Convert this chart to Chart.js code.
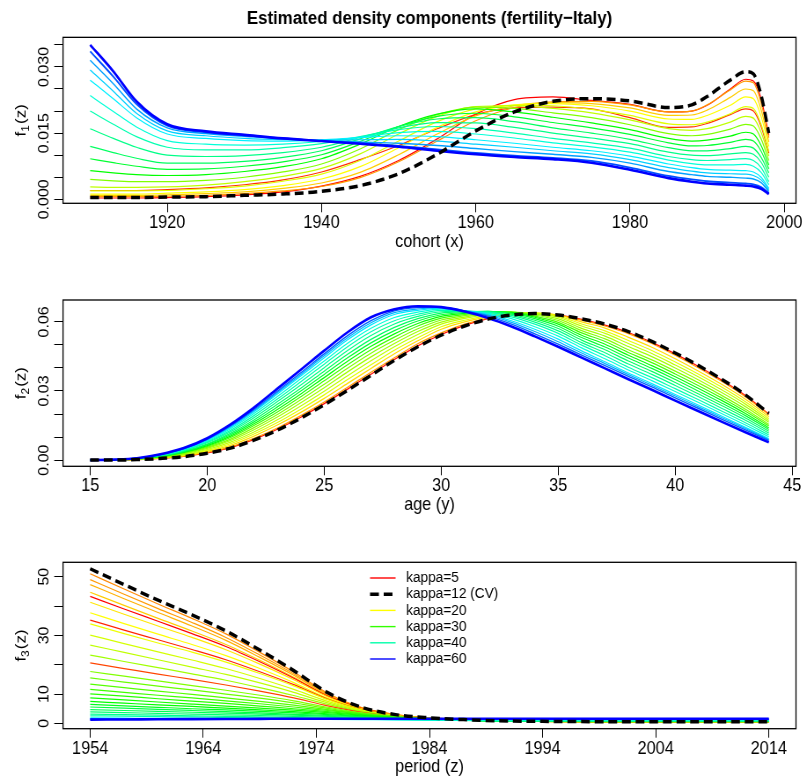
<!DOCTYPE html>
<html lang="en">
<head>
<meta charset="UTF-8">
<title>Estimated density components (fertility-Italy)</title>
<script src="https://cdn.jsdelivr.net/npm/chart.js"></script>
<style>
  body { margin: 0; background: #fff; }
  #page { position: relative; width: 804px; height: 781px; overflow: hidden; background: #fff; }
  .panel { position: absolute; left: 0; transform: scaleX(0.88); transform-origin: 0 0; }
  canvas { display: block; }
</style>
</head>
<body>
<div id="page">
  <div class="panel" style="top:0"><canvas id="c1" width="914" height="260"></canvas></div>
  <div class="panel" style="top:260px"><canvas id="c2" width="914" height="260"></canvas></div>
  <div class="panel" style="top:520px"><canvas id="c3" width="914" height="261"></canvas></div>
</div>
<script>
// ---- panel 1: cohort component f1(z) ----
const cohortYears = [1910,1913,1916,1920,1925,1930,1935,1940,1945,1950,1955,1960,1965,1970,1975,1980,1985,1988,1990,1993,1995,1996,1997,1998];
const f1_k5   = [.0003,.0003,.0003,.0004,.0006,.0010,.0017,.0030,.0052,.0088,.0137,.0193,.0226,.0232,.0224,.0215,.0198,.0200,.0213,.0250,.0272,.0268,.0228,.0145];
const f1_red2 = [.0020,.0020,.0020,.0022,.0026,.0033,.0044,.0062,.0090,.0122,.0160,.0192,.0207,.0209,.0205,.0185,.0163,.0164,.0172,.0192,.0205,.0200,.0165,.0105];
const f1_k12  = [.0004,.0004,.0004,.0005,.0006,.0009,.0012,.0018,.0031,.0058,.0102,.0155,.0198,.0222,.0228,.0223,.0208,.0214,.0233,.0270,.0289,.0284,.0236,.0150];
const f1_k16  = [.0006,.0006,.0006,.0007,.0009,.0013,.0019,.0029,.0049,.0085,.0132,.0178,.0208,.0221,.0222,.0214,.0198,.0200,.0214,.0248,.0268,.0264,.0218,.0140];
const f1_k18  = [.0009,.0009,.0009,.0010,.0013,.0017,.0025,.0037,.0061,.0101,.0148,.0189,.0212,.0219,.0217,.0207,.0190,.0191,.0202,.0231,.0250,.0246,.0203,.0130];
const f1_k20  = [.0012,.0012,.0012,.0014,.0017,.0022,.0031,.0046,.0074,.0117,.0163,.0198,.0214,.0217,.0212,.0200,.0182,.0181,.0190,.0213,.0232,.0228,.0188,.0120];
const f1_k22  = [.0019,.0019,.0019,.0020,.0024,.0030,.0041,.0057,.0088,.0132,.0176,.0205,.0213,.0212,.0204,.0190,.0171,.0169,.0175,.0194,.0210,.0206,.0170,.0109];
const f1_k25  = [.0028,.0027,.0027,.0028,.0032,.0040,.0052,.0070,.0103,.0148,.0188,.0210,.0212,.0206,.0196,.0180,.0160,.0156,.0160,.0175,.0188,.0184,.0152,.0098];
const f1_k28  = [.0045,.0042,.0040,.0040,.0043,.0050,.0062,.0080,.0114,.0158,.0192,.0209,.0206,.0196,.0185,.0169,.0149,.0144,.0147,.0159,.0170,.0166,.0137,.0088];
const f1_k30  = [.0065,.0060,.0056,.0054,.0056,.0063,.0074,.0092,.0125,.0165,.0193,.0205,.0198,.0186,.0173,.0158,.0138,.0132,.0134,.0143,.0152,.0148,.0122,.0078];
const f1_k33  = [.0092,.0083,.0075,.0068,.0069,.0075,.0085,.0101,.0131,.0165,.0188,.0195,.0187,.0174,.0162,.0147,.0128,.0121,.0122,.0129,.0136,.0132,.0109,.0069];
const f1_k35  = [.0120,.0106,.0093,.0082,.0082,.0086,.0095,.0110,.0137,.0165,.0182,.0185,.0176,.0162,.0150,.0136,.0117,.0110,.0110,.0115,.0120,.0116,.0095,.0060];
const f1_k38  = [.0160,.0138,.0118,.0100,.0097,.0099,.0106,.0118,.0140,.0162,.0174,.0173,.0163,.0150,.0139,.0126,.0107,.0100,.0099,.0103,.0106,.0102,.0084,.0050];
const f1_k40  = [.0200,.0170,.0142,.0118,.0112,.0112,.0117,.0126,.0142,.0158,.0165,.0160,.0150,.0138,.0128,.0116,.0097,.0090,.0088,.0090,.0092,.0088,.0072,.0040];
const f1_k42  = [.0235,.0199,.0164,.0133,.0125,.0123,.0125,.0131,.0141,.0151,.0154,.0148,.0139,.0128,.0119,.0107,.0089,.0081,.0078,.0078,.0079,.0075,.0061,.0033];
const f1_k45  = [.0270,.0228,.0185,.0148,.0138,.0133,.0132,.0135,.0140,.0144,.0142,.0135,.0127,.0118,.0110,.0098,.0080,.0072,.0068,.0066,.0065,.0062,.0050,.0025];
const f1_k47  = [.0293,.0245,.0195,.0155,.0144,.0138,.0135,.0134,.0135,.0136,.0132,.0125,.0118,.0110,.0103,.0090,.0072,.0064,.0060,.0058,.0057,.0054,.0044,.0022];
const f1_k50  = [.0315,.0262,.0205,.0162,.0149,.0143,.0137,.0133,.0130,.0127,.0122,.0115,.0108,.0102,.0095,.0082,.0063,.0056,.0052,.0050,.0048,.0046,.0038,.0018];
const f1_k55  = [.0335,.0278,.0216,.0167,.0152,.0145,.0138,.0132,.0127,.0121,.0113,.0105,.0099,.0094,.0087,.0072,.0053,.0045,.0041,.0038,.0036,.0034,.0028,.0014];
const f1_k60  = [.0350,.0290,.0222,.0170,.0154,.0146,.0138,.0132,.0126,.0119,.0110,.0102,.0096,.0091,.0083,.0067,.0048,.0040,.0036,.0033,.0031,.0029,.0024,.0012];
const cohortTicks = [1920,1940,1960,1980,2000];
const f1Ticks  = [0,0.005,0.010,0.015,0.020,0.025,0.030,0.035];
const f1Labels = ['0.000','','','0.015','','','0.030',''];

// ---- panel 2: age component f2(z) ----
const ages = [15,16,17,18,19,20,21,22,23,24,25,26,27,28,29,30,31,32,33,34,35,36,37,38,39,40,41,42,43,44];
const f2_k5  = [0,0,.0002,.0007,.0016,.0031,.0054,.0090,.0134,.0186,.0245,.0308,.0373,.0437,.0496,.0545,.0585,.0614,.0631,.0636,.0629,.0611,.0586,.0554,.0511,.0461,.0406,.0346,.0280,.0200];
const f2_k12 = [0,0,.0002,.0007,.0015,.0030,.0052,.0087,.0130,.0182,.0240,.0303,.0368,.0433,.0492,.0542,.0582,.0612,.0630,.0636,.0630,.0613,.0590,.0558,.0515,.0465,.0410,.0350,.0283,.0203];
const f2_k16 = [0,0,.0002,.0008,.0017,.0033,.0057,.0094,.0139,.0193,.0252,.0316,.0381,.0444,.0505,.0552,.0590,.0617,.0633,.0637,.0629,.0608,.0582,.0549,.0506,.0455,.0400,.0341,.0275,.0197];
const f2_k20 = [0,0,.0003,.0009,.0019,.0038,.0064,.0104,.0152,.0207,.0268,.0333,.0398,.0462,.0518,.0568,.0600,.0622,.0635,.0639,.0630,.0600,.0573,.0533,.0490,.0440,.0386,.0328,.0264,.0188];
const f2_k22 = [0,0,.0003,.0010,.0021,.0042,.0071,.0113,.0163,.0221,.0283,.0350,.0414,.0477,.0531,.0579,.0607,.0627,.0637,.0638,.0625,.0591,.0561,.0519,.0476,.0426,.0373,.0316,.0253,.0180];
const f2_k25 = [0,.0001,.0004,.0012,.0024,.0046,.0078,.0122,.0175,.0235,.0299,.0366,.0431,.0492,.0545,.0590,.0615,.0632,.0640,.0637,.0620,.0582,.0550,.0506,.0463,.0413,.0361,.0304,.0243,.0172];
const f2_k27 = [0,.0001,.0004,.0013,.0027,.0051,.0085,.0132,.0187,.0249,.0314,.0383,.0448,.0506,.0558,.0599,.0621,.0636,.0642,.0634,.0613,.0572,.0538,.0493,.0449,.0400,.0348,.0292,.0232,.0164];
const f2_k28 = [0,.0001,.0004,.0014,.0029,.0055,.0091,.0141,.0198,.0262,.0329,.0399,.0464,.0520,.0570,.0608,.0627,.0640,.0643,.0630,.0606,.0562,.0526,.0479,.0435,.0386,.0335,.0280,.0221,.0155];
const f2_k29 = [0,.0001,.0005,.0015,.0032,.0059,.0098,.0150,.0209,.0275,.0344,.0414,.0479,.0534,.0582,.0616,.0632,.0643,.0642,.0625,.0598,.0552,.0515,.0467,.0423,.0374,.0323,.0269,.0212,.0148];
const f2_k30 = [0,.0001,.0005,.0016,.0034,.0063,.0104,.0158,.0220,.0287,.0358,.0429,.0494,.0548,.0593,.0624,.0637,.0645,.0641,.0620,.0590,.0542,.0503,.0455,.0410,.0362,.0311,.0258,.0202,.0140];
const f2_k33 = [0,.0001,.0006,.0017,.0036,.0067,.0110,.0166,.0231,.0300,.0372,.0444,.0509,.0562,.0604,.0631,.0641,.0646,.0638,.0614,.0581,.0532,.0491,.0443,.0398,.0350,.0299,.0247,.0193,.0133];
const f2_k35 = [0,.0001,.0006,.0018,.0038,.0070,.0116,.0174,.0242,.0312,.0386,.0459,.0524,.0576,.0614,.0638,.0644,.0646,.0634,.0607,.0571,.0521,.0479,.0430,.0385,.0337,.0287,.0236,.0183,.0125];
const f2_k38 = [0,.0002,.0007,.0020,.0041,.0075,.0123,.0184,.0254,.0326,.0401,.0476,.0541,.0591,.0624,.0644,.0646,.0644,.0628,.0599,.0561,.0510,.0466,.0417,.0372,.0324,.0275,.0224,.0173,.0117];
const f2_k40 = [0,.0002,.0007,.0021,.0043,.0079,.0129,.0193,.0265,.0340,.0416,.0492,.0557,.0605,.0633,.0650,.0647,.0642,.0622,.0590,.0550,.0499,.0453,.0403,.0358,.0310,.0262,.0212,.0162,.0109];
const f2_k42 = [0,.0002,.0007,.0022,.0045,.0083,.0136,.0202,.0276,.0353,.0430,.0507,.0572,.0619,.0642,.0655,.0648,.0638,.0614,.0579,.0538,.0487,.0440,.0391,.0345,.0298,.0250,.0201,.0152,.0101];
const f2_k45 = [0,.0002,.0007,.0023,.0047,.0087,.0142,.0210,.0287,.0365,.0444,.0522,.0587,.0632,.0650,.0660,.0648,.0634,.0605,.0568,.0525,.0474,.0427,.0378,.0332,.0285,.0238,.0190,.0142,.0093];
const f2_k50 = [0,.0002,.0008,.0024,.0049,.0089,.0146,.0215,.0293,.0372,.0453,.0531,.0596,.0640,.0656,.0662,.0648,.0630,.0598,.0558,.0514,.0465,.0419,.0371,.0325,.0278,.0231,.0184,.0137,.0089];
const f2_k55 = [0,.0002,.0008,.0024,.0050,.0091,.0149,.0220,.0299,.0379,.0461,.0540,.0605,.0648,.0662,.0664,.0647,.0625,.0590,.0548,.0503,.0456,.0410,.0363,.0318,.0270,.0224,.0177,.0131,.0085];
const f2_k60 = [0,.0002,.0008,.0025,.0052,.0095,.0155,.0228,.0310,.0392,.0475,.0555,.0620,.0655,.0668,.0664,.0645,.0617,.0580,.0537,.0492,.0445,.0398,.0351,.0305,.0258,.0212,.0166,.0121,.0077];
const ageTicks = [15,20,25,30,35,40,45];
const f2Ticks  = [0,0.01,0.02,0.03,0.04,0.05,0.06];
const f2Labels = ['0.00','','','0.03','','','0.06'];

// ---- panel 3: period component f3(z) ----
const periods = [1954,1957,1960,1963,1966,1969,1972,1975,1978,1981,1984,1987,1990,1994,1999,2004,2009,2014];
const f3_k12  = [52.7,47.3,42.0,37.0,31.5,25.0,18.0,10.5,5.5,3.0,1.9,1.3,0.9,0.7,0.6,0.6,0.6,0.6];
const f3_k14  = [51.0,45.8,40.7,35.8,30.5,24.2,17.5,10.3,5.4,3.0,1.9,1.3,0.9,0.7,0.6,0.6,0.6,0.6];
const f3_k16  = [49.0,44.0,39.1,34.4,29.3,23.3,16.9,10.0,5.3,3.0,1.9,1.3,0.9,0.7,0.6,0.6,0.6,0.6];
const f3_k17  = [47.3,42.5,37.8,33.2,28.3,22.5,16.4,9.7,5.2,2.9,1.9,1.3,0.9,0.7,0.6,0.6,0.6,0.6];
const f3_k18  = [44.7,40.2,35.8,31.5,26.9,21.5,15.7,9.4,5.1,2.9,1.9,1.3,0.9,0.7,0.6,0.6,0.6,0.6];
const f3_k5   = [43.3,39.0,34.8,30.6,26.2,21.0,15.4,9.3,5.1,2.9,1.9,1.3,0.9,0.7,0.6,0.6,0.6,0.6];
const f3_k19  = [41.3,37.2,33.2,29.3,25.1,20.2,14.9,9.1,5.0,2.9,1.9,1.3,0.9,0.7,0.6,0.6,0.6,0.6];
const f3_k20  = [37.7,34.0,30.4,26.9,23.1,18.7,13.9,8.6,4.8,2.8,1.8,1.2,0.9,0.7,0.6,0.6,0.6,0.6];
const f3_red2 = [35.2,31.8,28.5,25.2,21.7,17.6,13.2,8.3,4.7,2.8,1.8,1.2,0.9,0.7,0.6,0.6,0.6,0.6];
const f3_k21  = [33.9,30.6,27.4,24.3,20.9,17.0,12.8,8.1,4.6,2.7,1.8,1.2,0.9,0.7,0.6,0.6,0.6,0.6];
const f3_k23  = [30.1,27.2,24.4,21.6,18.7,15.3,11.6,7.5,4.4,2.6,1.8,1.2,0.9,0.7,0.6,0.6,0.6,0.6];
const f3_k25  = [26.7,24.2,21.7,19.2,16.7,13.8,10.6,7.0,4.2,2.6,1.7,1.2,0.9,0.7,0.6,0.6,0.6,0.6];
const f3_k26  = [23.3,21.1,19.0,16.9,14.7,12.2,9.5,6.5,4.0,2.5,1.7,1.2,0.9,0.7,0.6,0.6,0.6,0.6];
const f3_red3 = [20.6,18.7,16.8,15.0,13.1,11.0,8.7,6.0,3.8,2.4,1.7,1.2,0.9,0.7,0.6,0.6,0.6,0.6];
const f3_k27  = [17.7,16.1,14.5,12.9,11.3,9.6,7.7,5.5,3.6,2.3,1.6,1.2,0.9,0.7,0.6,0.6,0.6,0.6];
const f3_k27b = [15.5,14.1,12.7,11.4,10.0,8.6,7.0,5.1,3.5,2.3,1.6,1.2,0.9,0.7,0.6,0.6,0.6,0.6];
const f3_k28  = [13.4,12.2,11.0,9.9,8.7,7.5,6.2,4.7,3.3,2.2,1.6,1.2,0.9,0.8,0.7,0.7,0.7,0.7];
const f3_k28b = [11.6,10.6,9.6,8.7,7.7,6.7,5.6,4.4,3.2,2.2,1.6,1.2,0.9,0.8,0.7,0.7,0.7,0.7];
const f3_k29  = [10.1,9.3,8.4,7.6,6.8,5.9,5.0,4.0,3.0,2.1,1.5,1.2,0.9,0.8,0.7,0.7,0.7,0.7];
const f3_k29b = [8.7,8.0,7.3,6.6,5.9,5.2,4.5,3.7,2.8,2.0,1.5,1.1,0.9,0.8,0.7,0.7,0.7,0.7];
const f3_k30  = [7.5,6.9,6.3,5.8,5.2,4.6,4.0,3.3,2.6,1.9,1.4,1.1,0.9,0.8,0.7,0.7,0.7,0.7];
const f3_k31  = [6.5,6.0,5.5,5.0,4.6,4.1,3.6,3.0,2.4,1.8,1.4,1.1,0.9,0.8,0.8,0.8,0.8,0.8];
const f3_k33  = [5.6,5.2,4.8,4.4,4.0,3.6,3.1,2.7,2.2,1.7,1.3,1.1,0.9,0.8,0.8,0.8,0.8,0.8];
const f3_k34  = [4.7,4.4,4.1,3.8,3.5,3.2,2.8,2.4,2.0,1.6,1.3,1.1,0.9,0.9,0.9,0.9,0.9,0.9];
const f3_k35  = [3.9,3.7,3.4,3.2,2.9,2.7,2.4,2.1,1.8,1.5,1.2,1.0,0.9,0.9,0.9,0.9,0.9,0.9];
const f3_k37  = [3.2,3.0,2.8,2.6,2.4,2.2,2.0,1.8,1.6,1.4,1.2,1.0,0.9,0.9,0.9,0.9,0.9,0.9];
const f3_k40  = [2.6,2.5,2.3,2.2,2.0,1.9,1.7,1.6,1.4,1.3,1.1,1.0,1.0,1.0,1.0,1.0,1.0,1.0];
const f3_k45  = [1.9,1.8,1.7,1.7,1.6,1.5,1.5,1.4,1.3,1.2,1.2,1.2,1.2,1.2,1.2,1.2,1.2,1.2];
const f3_k50  = [1.6,1.6,1.5,1.5,1.5,1.5,1.5,1.4,1.4,1.4,1.4,1.4,1.4,1.4,1.4,1.4,1.4,1.4];
const f3_k55  = [1.4,1.4,1.4,1.5,1.5,1.5,1.5,1.5,1.5,1.5,1.5,1.5,1.5,1.5,1.5,1.5,1.5,1.5];
const f3_k60  = [1.3,1.35,1.4,1.45,1.5,1.55,1.6,1.6,1.6,1.6,1.6,1.6,1.6,1.6,1.6,1.6,1.6,1.6];
const periodTicks = [1954,1964,1974,1984,1994,2004,2014];
const f3Ticks  = [0,10,20,30,40,50];
const f3Labels = ['0','10','','30','','50'];

// legend (drawn in the third panel)
const legendLabels = ['kappa=5','kappa=12 (CV)','kappa=20','kappa=30','kappa=40','kappa=60'];
const legendColors = ['#FF0000','#000000','#FFFF00','#33FF00','#00FFAA','#0000FF'];

// [values, colour, width] - first entry is drawn on top
const f1Series = [
  [f1_k60,'#0000FF',2.6],[f1_k55,'#0050FF',1.8],[f1_k50,'#00A0FF',1.4],[f1_k47,'#00D0FF',1.2],
  [f1_k45,'#00F0FF',1.2],[f1_k42,'#00FFD8',1.2],[f1_k40,'#00FFB0',1.2],[f1_k38,'#00FF88',1.2],
  [f1_k35,'#00FF60',1.2],[f1_k33,'#00FF30',1.2],[f1_k30,'#00FF00',1.2],[f1_k28,'#80FF00',1.2],
  [f1_k25,'#BFFF00',1.2],[f1_k22,'#E0FF00',1.2],[f1_k20,'#FFFF00',1.2],[f1_k18,'#FFCC00',1.2],
  [f1_k16,'#FF9900',1.2],[f1_red2,'#FF3300',1.2],[f1_k5,'#FF0000',1.2]
];
const f2Series = [
  [f2_k60,'#0000FF',2.6],[f2_k55,'#0060FF',1.4],[f2_k50,'#00B0FF',1.2],[f2_k45,'#00E8FF',1.2],
  [f2_k42,'#00FFD8',1.2],[f2_k40,'#00FFB0',1.2],[f2_k38,'#00FF88',1.2],[f2_k35,'#00FF60',1.2],
  [f2_k33,'#00FF30',1.2],[f2_k30,'#00FF00',1.2],[f2_k29,'#40FF00',1.2],[f2_k28,'#80FF00',1.2],
  [f2_k27,'#A0FF00',1.2],[f2_k25,'#BFFF00',1.2],[f2_k22,'#E0FF00',1.2],[f2_k20,'#FFDD00',1.2],
  [f2_k16,'#FF9900',1.2],[f2_k5,'#FF0000',1.2]
];
const f3Series = [
  [f3_k60,'#0000FF',2.6],[f3_k55,'#0050FF',1.4],[f3_k50,'#00A0FF',1.2],[f3_k45,'#00F0FF',1.2],
  [f3_k40,'#00FFB0',1.2],[f3_k37,'#00FF90',1.2],[f3_k35,'#00FF70',1.2],[f3_k34,'#00FF55',1.2],
  [f3_k33,'#00FF40',1.2],[f3_k31,'#00FF20',1.2],[f3_k30,'#00FF00',1.2],[f3_k29b,'#15FF00',1.2],
  [f3_k29,'#2AFF00',1.2],[f3_k28b,'#40FF00',1.2],[f3_k28,'#55FF00',1.2],[f3_k27b,'#6AFF00',1.2],
  [f3_k27,'#80FF00',1.2],[f3_red3,'#FF4400',1.2],[f3_k26,'#A0FF00',1.2],[f3_k25,'#BFFF00',1.2],
  [f3_k23,'#D4FF00',1.2],[f3_k21,'#EEFF00',1.2],[f3_red2,'#FF2200',1.2],[f3_k20,'#FFFF00',1.2],
  [f3_k19,'#FFE600',1.2],[f3_k5,'#FF0000',1.2],[f3_k18,'#FFCC00',1.2],[f3_k17,'#FFB000',1.2],
  [f3_k16,'#FF9900',1.2],[f3_k14,'#FF8800',1.2]
];

const FONT = '"Liberation Sans", Arial, Helvetica, sans-serif';
const DASH = [10, 5.5];

function lineSet(xs, ys, color, width, order, dash) {
  return {
    data: xs.map((x, i) => ({x: x, y: ys[i]})),
    borderColor: color, borderWidth: width, borderDash: dash || [],
    borderJoinStyle: 'round', pointRadius: 0, fill: false,
    cubicInterpolationMode: 'monotone', order: order
  };
}

// frame, rotated y labels, y title and (optionally) legend
const framePlugin = {
  id: 'frame',
  afterDraw(chart, args, o) {
    const ctx = chart.ctx, a = chart.chartArea, ys = chart.scales.y;
    ctx.save();
    ctx.strokeStyle = '#000'; ctx.lineWidth = 1.3; ctx.setLineDash([]);
    ctx.strokeRect(a.left, a.top, a.right - a.left, a.bottom - a.top);
    ctx.fillStyle = '#000';
    ctx.font = '16px ' + FONT;
    ctx.textAlign = 'center'; ctx.textBaseline = 'middle';
    o.ticks.forEach((v, i) => {
      if (!o.labels[i]) return;
      ctx.save();
      ctx.translate(a.left - 21, ys.getPixelForValue(v));
      ctx.rotate(-Math.PI / 2);
      ctx.fillText(o.labels[i], 0, 0);
      ctx.restore();
    });
    // y axis title f_n(z)
    ctx.save();
    ctx.translate(24, (a.top + a.bottom) / 2);
    ctx.rotate(-Math.PI / 2);
    ctx.textAlign = 'left'; ctx.textBaseline = 'alphabetic';
    ctx.font = '17px ' + FONT;
    const wf = ctx.measureText('f').width, wz = ctx.measureText('(z)').width;
    ctx.font = '12px ' + FONT;
    const ws = ctx.measureText(o.sub).width;
    let x = -(wf + ws + wz + 1) / 2;
    ctx.font = '17px ' + FONT; ctx.fillText('f', x, 5); x += wf;
    ctx.font = '12px ' + FONT; ctx.fillText(o.sub, x, 9); x += ws + 1;
    ctx.font = '17px ' + FONT; ctx.fillText('(z)', x, 5);
    ctx.restore();
    if (o.legend) {
      ctx.font = '15.5px ' + FONT;
      ctx.textAlign = 'left'; ctx.textBaseline = 'middle';
      legendLabels.forEach((lab, i) => {
        const y = o.legend.y + i * o.legend.step;
        ctx.beginPath();
        ctx.strokeStyle = legendColors[i];
        ctx.lineWidth = i === 1 ? 3.5 : 1.4;
        ctx.setLineDash(i === 1 ? DASH : []);
        ctx.moveTo(o.legend.x, y); ctx.lineTo(o.legend.x + 29, y);
        ctx.stroke();
        ctx.setLineDash([]);
        ctx.fillStyle = '#000';
        ctx.fillText(lab, o.legend.x + 41, y);
      });
    }
    ctx.restore();
  }
};

function makePanel(p) {
  const datasets = p.series.map((s, i) => lineSet(p.xs, s[0], s[1], s[2], i + 1));
  datasets.unshift(lineSet(p.xs, p.dashed, '#000000', 3.5, 0, DASH));
  new Chart(document.getElementById(p.id), {
    type: 'line',
    data: { datasets: datasets },
    options: {
      responsive: false, animation: false, events: [],
      layout: { padding: { left: 0, right: 9.5, top: p.padTop, bottom: 0 } },
      plugins: {
        legend: { display: false }, tooltip: { enabled: false },
        title: p.title ? {
          display: true, text: p.title, color: '#000', fullSize: false,
          font: { family: FONT, size: 19.2, weight: 'bold' }, padding: { top: 7, bottom: 7.3 }
        } : { display: false },
        frame: { ticks: p.yTicks, labels: p.yLabels, sub: p.sub, legend: p.legend || null }
      },
      scales: {
        x: {
          type: 'linear', min: p.xMin, max: p.xMax,
          afterBuildTicks: s => { s.ticks = p.xTicks.map(v => ({value: v})); },
          afterFit: s => { s.height = p.xAxisH; },
          ticks: { callback: v => String(v), color: '#000', font: { family: FONT, size: 18.5 }, padding: 0, maxRotation: 0, autoSkip: false },
          grid: { drawOnChartArea: false, drawTicks: true, tickLength: 9, color: '#000' },
          border: { display: false },
          title: { display: true, text: p.xTitle, color: '#000', font: { family: FONT, size: 18.5 }, padding: { top: 0, bottom: p.titlePad } }
        },
        y: {
          type: 'linear', min: p.yMin, max: p.yMax,
          afterBuildTicks: s => { s.ticks = p.yTicks.map(v => ({value: v})); },
          afterFit: s => { s.width = 71.6; },
          ticks: { display: false },
          grid: { drawOnChartArea: false, drawTicks: true, tickLength: 10, color: '#000' },
          border: { display: false }
        }
      }
    },
    plugins: [framePlugin]
  });
}

makePanel({ id: 'c1', xs: cohortYears, series: f1Series, dashed: f1_k12,
  xMin: 1906.48, xMax: 2001.52, yMin: -0.0009, yMax: 0.0367,
  xTicks: cohortTicks, yTicks: f1Ticks, yLabels: f1Labels, sub: '1',
  xTitle: 'cohort (x)', title: 'Estimated density components (fertility\u2212Italy)',
  padTop: 0, xAxisH: 56.7, titlePad: 7.1 });

makePanel({ id: 'c2', xs: ages, series: f2Series, dashed: f2_k12,
  xMin: 13.84, xMax: 45.16, yMin: -0.0027, yMax: 0.0695,
  xTicks: ageTicks, yTicks: f2Ticks, yLabels: f2Labels, sub: '2',
  xTitle: 'age (y)', padTop: 40, xAxisH: 53.7, titlePad: 4.1 });

makePanel({ id: 'c3', xs: periods, series: f3Series, dashed: f3_k12,
  xMin: 1951.6, xMax: 2016.4, yMin: -1.8, yMax: 54.9,
  xTicks: periodTicks, yTicks: f3Ticks, yLabels: f3Labels, sub: '3',
  xTitle: 'period (z)', padTop: 42.3, xAxisH: 52.3, titlePad: 2.7,
  legend: { x: 420.5, y: 58, step: 16.2 } });
</script>
</body>
</html>
